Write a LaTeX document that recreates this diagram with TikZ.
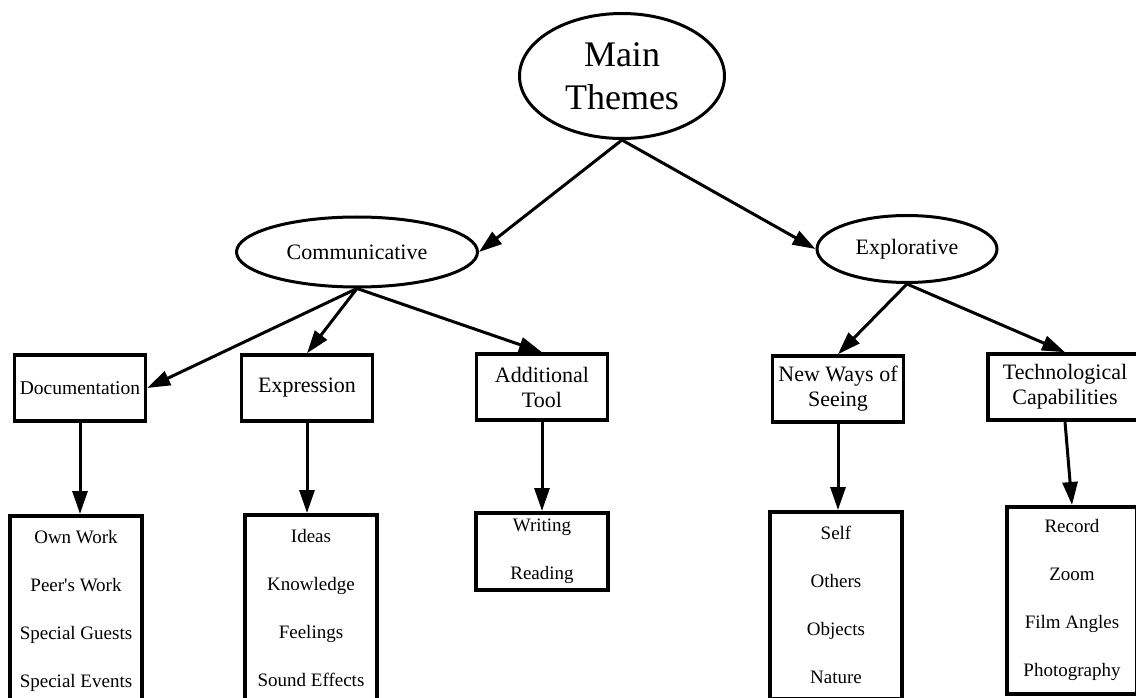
\documentclass[tikz,border=0pt]{standalone}
\usepackage{fontspec}
\setmainfont{Liberation Serif}
\usetikzlibrary{shapes.geometric,arrows.meta}

\begin{document}
\begin{tikzpicture}[
      x=1pt,
      y=-1pt,
      theme/.style={
        ellipse,
        draw,
        line width=3pt,
        inner sep=0pt,
        align=center,
        font=\fontsize{22}{26}\selectfont
      },
      cat/.style={
        rectangle,
        draw,
        line width=3.5pt,
        inner sep=0pt,
        minimum width=131pt,
        minimum height=66pt,
        align=center,
        font=\fontsize{22}{25}\selectfont
      },
      items/.style={
        rectangle,
        draw,
        line width=3.5pt,
        anchor=north,
        inner sep=4pt,
        minimum width=132pt,
        align=center,
        font=\fontsize{19}{48}\selectfont
      },
      link/.style={
        line width=3pt,
        -{Triangle[length=23pt,width=15pt]}
      }
    ]
      \useasboundingbox (0,0) rectangle (1136,698);

      \node (m) at (622,76) [theme,minimum width=205pt,minimum height=125pt,
        font=\fontsize{36}{43}\selectfont]{Main\\Themes};

      \node (c1) at (357,252) [theme,minimum width=241pt,minimum height=70pt]{Communicative};
      \node (c2) at (907,249) [theme,minimum width=180pt,minimum height=67pt]{Explorative};

      \node (s1) at (80,388) [cat,font=\fontsize{19.5}{23}\selectfont]{Documentation};
      \node (s2) at (307,388) [cat]{Expression};
      \node (s3) at (542,387) [cat]{Additional\\Tool};
      \node (s4) at (838,389) [cat]{New Ways of\\Seeing};
      \node (s5) at (1065,387) [cat,minimum width=154pt]{Technological\\Capabilities};

      \node (l1) at (76,514) [items,minimum height=190pt]{Own Work\\Peer\textquotesingle s Work\\Special Guests\\Special Events};
      \node (l2) at (311,513) [items,minimum height=186pt]{Ideas\\Knowledge\\Feelings\\Sound Effects};
      \node (l3) at (542,511) [items,minimum height=77pt]{Writing\\Reading};
      \node (l4) at (836,510) [items,minimum height=187pt]{Self\\Others\\Objects\\Nature};
      \node (l5) at (1072,505) [items,minimum width=130pt,minimum height=187pt]{Record\\Zoom\\Film Angles\\Photography};

      \draw[link] (m.south) -- (c1.east);
      \draw[link] (m.south) -- (c2.west);

      \draw[link] (c1.south) -- (s1.east);
      \draw[link] (c1.south) -- (s2.north);
      \draw[link] (c1.south) -- (s3.north);

      \draw[link] (c2.south) -- (s4.north);
      \draw[link] (c2.south) -- (s5.north);

      \draw[link] (s1.south) -- (s1.south |- l1.north);
      \draw[link] (s2.south) -- (s2.south |- l2.north);
      \draw[link] (s3.south) -- (s3.south |- l3.north);
      \draw[link] (s4.south) -- (s4.south |- l4.north);
      \draw[link] (s5.south) -- (l5.north);

    \end{tikzpicture}
\end{document}
